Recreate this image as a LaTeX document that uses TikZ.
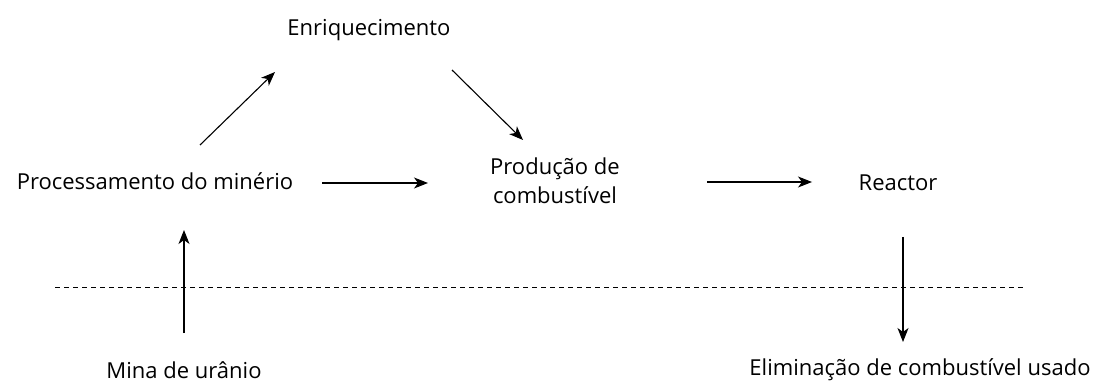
\documentclass[tikz,border=0pt]{standalone}
\usepackage{fontspec}
\setmainfont{Open Sans}
\usetikzlibrary{arrows.meta}
\begin{document}
\begin{tikzpicture}[x=1pt,y=-1pt,
  lbl/.style={font=\fontsize{22}{29}\selectfont, inner sep=0pt, align=center},
  flow/.style={line width=1.1pt, -{Stealth[length=14pt,width=11pt,inset=4pt]}}]
\useasboundingbox (0,0) rectangle (1095,390);
\node[lbl] (enr) at (369,30) {Enriquecimento};
\node[lbl] (proc) at (155,181) {Processamento do minério};
\node[lbl] (prod) at (555,181) {Produção de\\combustível};
\node[lbl] (reac) at (898,183) {Reactor};
\node[lbl] (mina) at (184,370) {Mina de urânio};
\node[lbl] (elim) at (920,370) {Eliminação de combustível usado};
\coordinate (a1s) at (200,145); \coordinate (a1e) at (275,72);
\coordinate (a2s) at (452,70); \coordinate (a2e) at (523,140);
\coordinate (a3s) at (322,183); \coordinate (a3e) at (428,183);
\coordinate (a4s) at (707,182); \coordinate (a4e) at (812,182);
\coordinate (a5s) at (184,333); \coordinate (a5e) at (184,230);
\coordinate (a6s) at (903,237); \coordinate (a6e) at (903,342);
\coordinate (d1) at (55,287); \coordinate (d2) at (1025,287);
\draw[flow] (a1s) -- (a1e);
\draw[flow] (a2s) -- (a2e);
\draw[flow] (a3s) -- (a3e);
\draw[flow] (a4s) -- (a4e);
\draw[flow] (a5s) -- (a5e);
\draw[flow] (a6s) -- (a6e);
\draw[line width=0.8pt, dash pattern=on 5pt off 4pt] (d1) -- (d2);
\end{tikzpicture}
\end{document}
